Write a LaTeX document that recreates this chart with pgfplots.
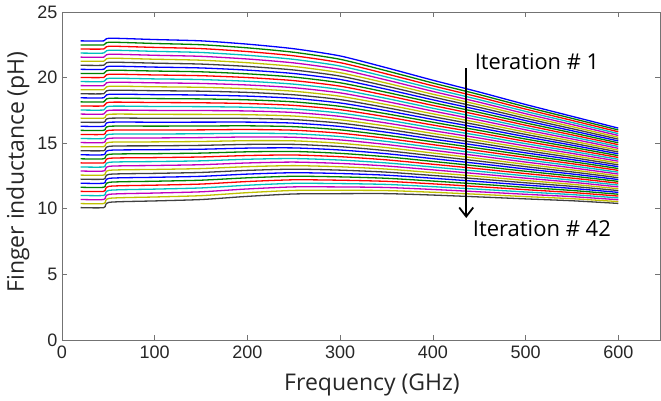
\documentclass[border=0pt]{standalone}
\usepackage{pgfplots}
\pgfplotsset{compat=1.18}
\usepackage{pgfplotstable}
\usetikzlibrary{arrows.meta}
\usepackage{fontspec}
\setmainfont{Liberation Sans}
\newfontfamily\labelfont{Open Sans}

\definecolor{mb}{rgb}{0,0,1}
\definecolor{mg}{rgb}{0,0.5,0}
\definecolor{mr}{rgb}{1,0,0}
\definecolor{mc}{rgb}{0,0.75,0.75}
\definecolor{mm}{rgb}{0.75,0,0.75}
\definecolor{my}{rgb}{0.75,0.75,0}
\definecolor{mk}{rgb}{0.25,0.25,0.25}

\pgfplotscreateplotcyclelist{matlab}{
{mb,line width=1.3pt},{mg,line width=1.3pt},{mr,line width=1.3pt},{mc,line width=1.3pt},{mm,line width=1.3pt},{my,line width=1.3pt},{mk,line width=1.3pt}}

\pgfplotstableread{
x c1 c2 c3 c4 c5 c6 c7 c8 c9 c10 c11 c12 c13 c14 c15 c16 c17 c18 c19 c20 c21 c22 c23 c24 c25 c26 c27 c28 c29 c30 c31 c32 c33 c34 c35 c36 c37 c38 c39 c40 c41 c42
20 22.80 22.49 22.18 21.87 21.56 21.25 20.94 20.63 20.32 20.01 19.70 19.39 19.08 18.77 18.46 18.15 17.84 17.53 17.22 16.91 16.60 16.29 15.98 15.67 15.36 15.05 14.74 14.43 14.12 13.81 13.50 13.19 12.88 12.57 12.26 11.95 11.64 11.33 11.02 10.71 10.40 10.09
45 22.80 22.49 22.18 21.87 21.56 21.25 20.94 20.63 20.32 20.01 19.70 19.39 19.08 18.77 18.46 18.15 17.84 17.53 17.22 16.91 16.60 16.29 15.98 15.67 15.36 15.05 14.74 14.43 14.12 13.81 13.50 13.19 12.88 12.57 12.26 11.95 11.64 11.33 11.02 10.71 10.40 10.09
51 23.000 22.695 22.390 22.085 21.780 21.475 21.170 20.865 20.560 20.255 19.950 19.645 19.340 19.035 18.730 18.425 18.120 17.815 17.510 17.205 16.900 16.595 16.290 15.985 15.680 15.375 15.070 14.765 14.460 14.155 13.850 13.545 13.240 12.935 12.630 12.325 12.020 11.715 11.410 11.105 10.800 10.495
100 22.90 22.60 22.30 22.00 21.70 21.40 21.10 20.80 20.50 20.20 19.90 19.60 19.30 19.00 18.70 18.40 18.10 17.80 17.50 17.20 16.90 16.60 16.30 16.00 15.70 15.40 15.10 14.80 14.50 14.20 13.90 13.60 13.30 13.00 12.70 12.40 12.10 11.80 11.50 11.20 10.90 10.60
150 22.800 22.505 22.210 21.915 21.620 21.325 21.030 20.735 20.440 20.145 19.850 19.555 19.260 18.965 18.670 18.375 18.080 17.785 17.490 17.195 16.900 16.605 16.310 16.015 15.720 15.425 15.130 14.835 14.540 14.245 13.950 13.655 13.360 13.065 12.770 12.475 12.180 11.885 11.590 11.295 11.000 10.705
200 22.550 22.267 21.984 21.701 21.418 21.135 20.852 20.569 20.286 20.003 19.720 19.437 19.154 18.871 18.588 18.305 18.022 17.739 17.456 17.173 16.890 16.607 16.324 16.041 15.758 15.475 15.192 14.909 14.626 14.343 14.060 13.777 13.494 13.211 12.928 12.645 12.362 12.079 11.796 11.513 11.230 10.947
250 22.20 21.93 21.66 21.39 21.12 20.85 20.58 20.31 20.04 19.77 19.50 19.23 18.96 18.69 18.42 18.15 17.88 17.61 17.34 17.07 16.80 16.53 16.26 15.99 15.72 15.45 15.18 14.91 14.64 14.37 14.10 13.83 13.56 13.29 13.02 12.75 12.48 12.21 11.94 11.67 11.40 11.13
300 21.650 21.394 21.138 20.882 20.626 20.370 20.114 19.858 19.602 19.346 19.090 18.834 18.578 18.322 18.066 17.810 17.554 17.298 17.042 16.786 16.530 16.274 16.018 15.762 15.506 15.250 14.994 14.738 14.482 14.226 13.970 13.714 13.458 13.202 12.946 12.690 12.434 12.178 11.922 11.666 11.410 11.154
350 20.750 20.516 20.282 20.048 19.814 19.580 19.346 19.112 18.878 18.644 18.410 18.176 17.942 17.708 17.474 17.240 17.006 16.772 16.538 16.304 16.070 15.836 15.602 15.368 15.134 14.900 14.666 14.432 14.198 13.964 13.730 13.496 13.262 13.028 12.794 12.560 12.326 12.092 11.858 11.624 11.390 11.156
400 19.800 19.587 19.373 19.160 18.946 18.733 18.519 18.306 18.092 17.879 17.665 17.452 17.238 17.025 16.811 16.598 16.384 16.171 15.957 15.744 15.530 15.317 15.103 14.890 14.676 14.463 14.249 14.036 13.822 13.609 13.395 13.182 12.968 12.755 12.541 12.328 12.114 11.901 11.687 11.474 11.260 11.047
450 18.900 18.705 18.510 18.315 18.120 17.925 17.730 17.535 17.340 17.145 16.950 16.755 16.560 16.365 16.170 15.975 15.780 15.585 15.390 15.195 15.000 14.805 14.610 14.415 14.220 14.025 13.830 13.635 13.440 13.245 13.050 12.855 12.660 12.465 12.270 12.075 11.880 11.685 11.490 11.295 11.100 10.905
500 17.950 17.775 17.599 17.424 17.248 17.073 16.897 16.722 16.546 16.371 16.195 16.020 15.844 15.669 15.493 15.318 15.142 14.967 14.791 14.616 14.440 14.265 14.089 13.914 13.738 13.563 13.387 13.212 13.036 12.861 12.685 12.510 12.334 12.159 11.983 11.808 11.632 11.457 11.281 11.106 10.930 10.755
550 17.050 16.893 16.736 16.579 16.422 16.265 16.108 15.951 15.794 15.637 15.480 15.323 15.166 15.009 14.852 14.695 14.538 14.381 14.224 14.067 13.910 13.753 13.596 13.439 13.282 13.125 12.968 12.811 12.654 12.497 12.340 12.183 12.026 11.869 11.712 11.555 11.398 11.241 11.084 10.927 10.770 10.613
600 16.15 16.01 15.87 15.73 15.59 15.45 15.31 15.17 15.03 14.89 14.75 14.61 14.47 14.33 14.19 14.05 13.91 13.77 13.63 13.49 13.35 13.21 13.07 12.93 12.79 12.65 12.51 12.37 12.23 12.09 11.95 11.81 11.67 11.53 11.39 11.25 11.11 10.97 10.83 10.69 10.55 10.41
}\data

\begin{document}
\begin{tikzpicture}
\begin{axis}[
  scale only axis, width=598pt, height=328pt,
  xmin=0, xmax=645, ymin=0, ymax=25,
  xtick={0,100,...,600}, ytick={0,5,...,25},
  tick align=inside, major tick length=5pt,
  axis line style={black!55}, tick style={black!55, line width=0.6pt},
  /pgf/number format/assume math mode=true,
  tick label style={font=\fontsize{18}{18}\selectfont, black!85},
  xticklabel style={yshift=-2pt},
  yticklabel style={xshift=-1pt},
  xlabel={Frequency (GHz)}, ylabel={Finger inductance (pH)},
  label style={font=\labelfont\fontsize{23}{23}\selectfont, black!85},
  xlabel style={at={(axis description cs:0.5,0)}, anchor=center, yshift=-45pt, xshift=11pt},
  ylabel style={at={(axis description cs:0,0.5)}, anchor=center, yshift=44pt, xshift=4pt},
  cycle list name=matlab, no marks,
]
\pgfplotsinvokeforeach{1,...,42}{\addplot+[smooth, tension=0.4] table[x=x, y=c#1]{\data};}
\draw[-{Straight Barb[length=9pt,width=14pt]}, line width=1.8pt] (axis cs:436,20.7) -- (axis cs:436,9.3);
\node[anchor=west, font=\labelfont\fontsize{21.8}{22}\selectfont, inner sep=0pt] at (axis cs:445,21.2) {Iteration \# 1};
\node[anchor=west, font=\labelfont\fontsize{22}{22}\selectfont, inner sep=0pt] at (axis cs:443,8.5) {Iteration \# 42};
\coordinate (ll) at (rel axis cs:0,0);
\coordinate (ur) at (rel axis cs:1,1);
\end{axis}
\pgfresetboundingbox
\path[use as bounding box] ([shift={(-62pt,-61pt)}]ll) rectangle ([shift={(1pt,12pt)}]ur);
\end{tikzpicture}
\end{document}
